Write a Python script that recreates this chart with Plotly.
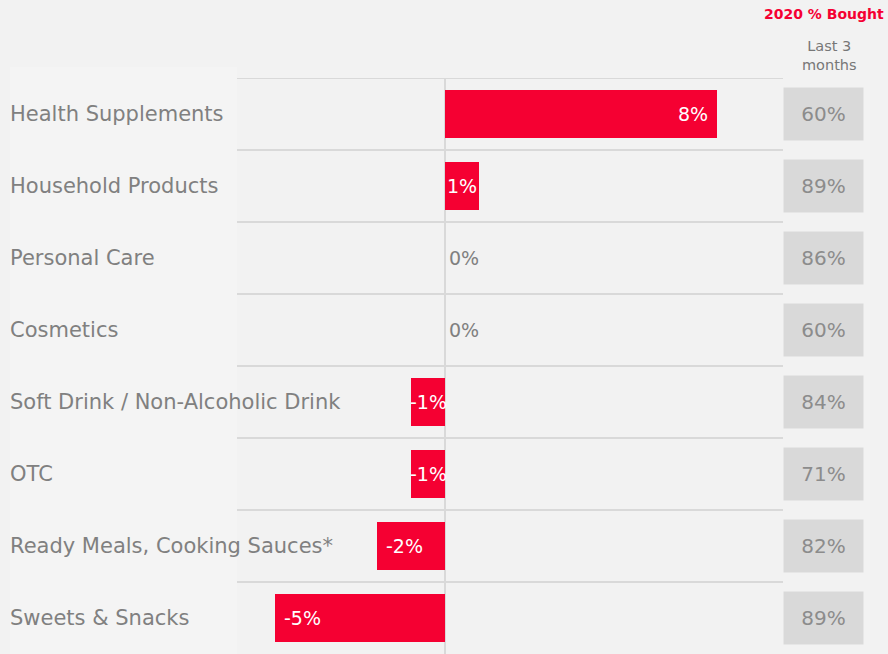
import plotly.graph_objects as go

# Change in share bought, by category (percentage points)
categories = [
    "Health Supplements",
    "Household Products",
    "Personal Care",
    "Cosmetics",
    "Soft Drink / Non-Alcoholic Drink",
    "OTC",
    "Ready Meals, Cooking Sauces*",
    "Sweets & Snacks",
]
change = [8, 1, 0, 0, -1, -1, -2, -5]
bought_last3 = [60, 89, 86, 60, 84, 71, 82, 89]

W, H = 888, 654
BG = "#f2f2f2"
RED = "#f50032"
GRID = "#d9d9d9"
GREY_TXT = "#808080"
FONT = "DejaVu Sans"

# pixel geometry of the plotting area
px_left, px_right = 237, 783
px_top = 78
x_zero_px = 445
px_per_pt = 34.0
x_range = [(px_left - x_zero_px) / px_per_pt, (px_right - x_zero_px) / px_per_pt]

n = len(categories)
idx = list(range(n))

fig = go.Figure()
fig.add_trace(go.Bar(
    x=change,
    y=idx,
    orientation="h",
    marker=dict(color=RED, line=dict(width=0)),
    width=0.66,
    hoverinfo="skip",
))

shapes = []
# faint label panel on the left
shapes.append(dict(type="rect", xref="paper", yref="paper",
                   x0=10 / W, x1=px_left / W, y0=0, y1=1 - 67 / H,
                   fillcolor="#f4f4f4", line=dict(width=0), layer="below"))
# row separators
for k in range(n):
    shapes.append(dict(type="line", xref="paper", yref="y",
                       x0=px_left / W, x1=px_right / W, y0=k - 0.5, y1=k - 0.5,
                       line=dict(color=GRID, width=2), layer="below"))

annotations = []
# value labels on the bars
for i, v in enumerate(change):
    lab = f"{v}%"
    if v == 0:
        a = dict(x=0, xanchor="left", xshift=2,
                 font=dict(family=FONT, size=19, color=GREY_TXT))
    elif abs(v) * px_per_pt < 50:
        a = dict(x=v / 2, xanchor="center",
                 font=dict(family=FONT, size=19, color="white"))
    elif v > 0:
        a = dict(x=v, xanchor="right", xshift=-7,
                 font=dict(family=FONT, size=19, color="white"))
    else:
        a = dict(x=v, xanchor="left", xshift=7,
                 font=dict(family=FONT, size=19, color="white"))
    a.update(xref="x", y=i, yref="y", yanchor="middle", text=lab,
             showarrow=False)
    annotations.append(a)
# category names
for i, c in enumerate(categories):
    annotations.append(dict(
        x=8 / W, xref="paper", xanchor="left",
        y=i, yref="y", yanchor="middle",
        text=c, showarrow=False,
        font=dict(family=FONT, size=21, color=GREY_TXT),
    ))
# 2020 % bought boxes
for i, v in enumerate(bought_last3):
    annotations.append(dict(
        x=823.5 / W, xref="paper", xanchor="center",
        y=i, yref="y", yanchor="middle",
        text=f"{v}%", showarrow=False,
        width=77, height=50, bgcolor="#d9d9d9",
        font=dict(family=FONT, size=20, color="#8c8c8c"),
    ))
annotations.append(dict(
    x=886 / W, xref="paper", xanchor="right",
    y=1 - 14 / H, yref="paper", yanchor="middle",
    text="<b>2020 % Bought</b>", showarrow=False,
    font=dict(family=FONT, size=14, color=RED),
))
annotations.append(dict(
    x=829 / W, xref="paper", xanchor="center",
    y=1 - 56 / H, yref="paper", yanchor="middle",
    text="Last 3<br>months", showarrow=False,
    font=dict(family=FONT, size=14.5, color="#777777"),
))

fig.update_layout(
    width=W, height=H,
    margin=dict(l=0, r=0, t=0, b=0),
    paper_bgcolor=BG, plot_bgcolor="rgba(0,0,0,0)",
    showlegend=False,
    bargap=0,
    xaxis=dict(domain=[px_left / W, px_right / W], range=x_range,
               showgrid=False, showticklabels=False, ticks="",
               zeroline=True, zerolinecolor=GRID, zerolinewidth=2, fixedrange=True),
    yaxis=dict(domain=[0, 1 - px_top / H], range=[n - 0.5, -0.5],
               showgrid=False, showticklabels=False, ticks="",
               zeroline=False, fixedrange=True),
    shapes=shapes,
    annotations=annotations,
)

fig.write_html("out.html")
